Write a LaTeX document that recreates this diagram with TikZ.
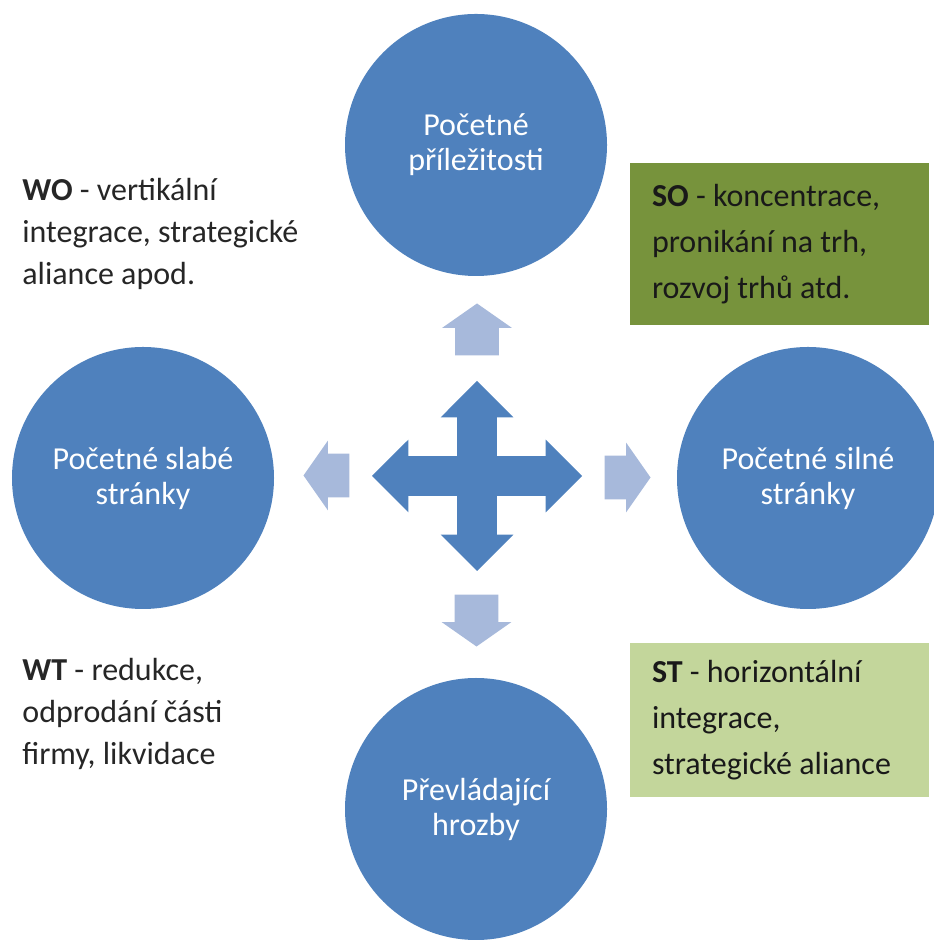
\documentclass[tikz,border=0pt]{standalone}
\usepackage{fontspec}
\setmainfont{Carlito}
\usetikzlibrary{shapes.arrows}

\definecolor{swotblue}{HTML}{4F81BD}
\definecolor{swotlight}{HTML}{A7B9DB}
\definecolor{swotolive}{HTML}{77933C}
\definecolor{swotpale}{HTML}{C3D69B}

\tikzset{
	bigcircle/.style={circle,fill=swotblue,minimum size=131pt,inner sep=0pt,text=white,align=center,font=\fontsize{16}{17.5}\selectfont},
	lightarrow/.style={single arrow,fill=swotlight,minimum width=34.5pt,single arrow head extend=6.5pt,single arrow tip angle=110,inner xsep=0pt,inner ysep=10.75pt,anchor=tip},
	crossarrow/.style={double arrow,fill=swotblue,minimum width=36pt,double arrow head extend=8.25pt,inner xsep=0pt,inner ysep=9.75pt},
	textblock/.style={anchor=north west,inner sep=0pt,align=left,text=black!85,font=\fontsize{16}{21}\selectfont},
	greenbox/.style={rectangle,minimum width=149.5pt,minimum height=#1,text width=127.5pt,inner xsep=11pt,align=flush left,text=black!90,font=\fontsize{16}{23}\selectfont}
}

\begin{document}
\begin{tikzpicture}[x=50pt,y=50pt]
			\useasboundingbox (0,0) rectangle (9.33,9.40);
			\node[bigcircle] (opp) at (4.76,7.95) {Početné\\příležitosti};
			\node[bigcircle] (weak) at (1.43,4.62) {Početné slabé\\stránky};
			\node[bigcircle] (strong) at (8.08,4.62) {Početné silné\\stránky};
			\node[bigcircle] (threat) at (4.76,1.31) {Převládající\\hrozby};

			\node[crossarrow,minimum height=105pt] (crossh) at (4.77,4.64) {};
			\node[crossarrow,minimum height=95pt,rotate=90] (crossv) at (crossh) {};

			\node[lightarrow,minimum height=26pt,rotate=90] (upa) at (4.77,6.37) {};
			\node[lightarrow,minimum height=26pt,rotate=-90] (downa) at (4.765,2.93) {};
			\node[lightarrow,minimum height=23pt] (righta) at (6.51,4.625) {};
			\node[lightarrow,minimum height=23pt,rotate=180] (lefta) at (3.03,4.645) {};

			\node[greenbox=81pt,fill=swotolive] (so) at (7.795,6.96) {\textbf{SO} - koncentrace,\\pronikání na trh,\\rozvoj trhů atd.};
			\node[greenbox=77pt,fill=swotpale] (st) at (7.795,2.20) {\textbf{ST} - horizontální\\integrace,\\strategické aliance};

			\node[textblock] (wo) at (0.22,7.62) {\textbf{WO} - vertikální\\integrace, strategické\\aliance apod.};
			\node[textblock] (wt) at (0.22,2.82) {\textbf{WT} - redukce,\\odprodání  části\\firmy, likvidace};
\end{tikzpicture}
\end{document}
